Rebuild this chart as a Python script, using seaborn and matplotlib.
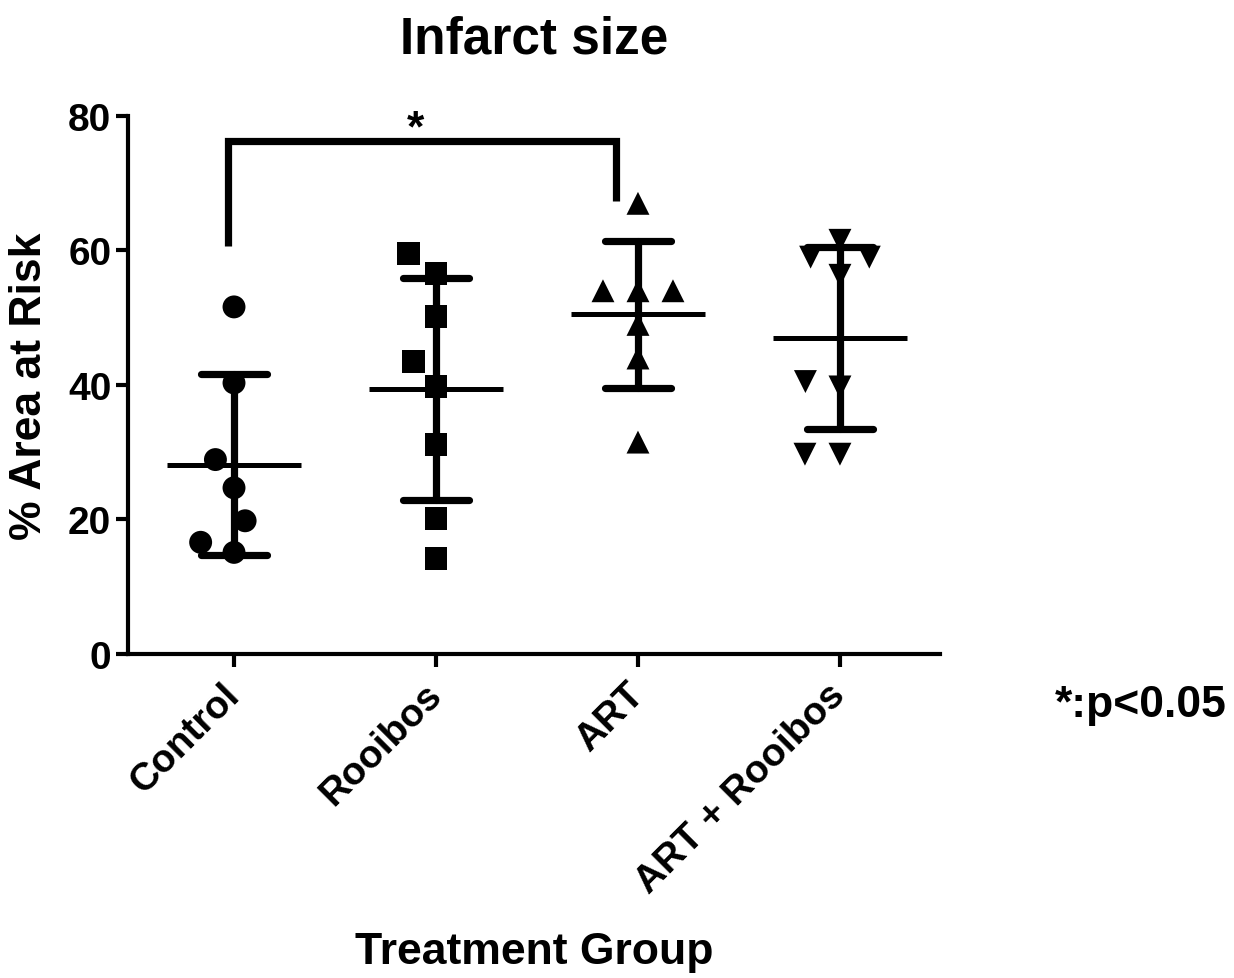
import numpy as np
import pandas as pd
import matplotlib
matplotlib.use("Agg")
import matplotlib.pyplot as plt
import seaborn as sns

# Infarct size (% of area at risk) per animal, by treatment group
groups = ["Control", "Rooibos", "ART", "ART + Rooibos"]
control = [51.6, 40.3, 28.9, 24.7, 19.8, 15.1, 16.6]
rooibos = [59.6, 56.5, 50.2, 43.5, 39.7, 31.1, 20.2, 14.2]
art = [67.0, 54.0, 54.0, 54.0, 49.0, 44.0, 31.5]
art_rooibos = [61.5, 59.0, 59.0, 56.3, 40.5, 39.7, 29.7, 29.7]
group_markers = ["o", "s", "^", "v"]

yticks = [0, 20, 40, 60, 80]

# Significance bracket between Control and ART
bracket_x = [-0.03, 1.89]
bracket_top = 76.3
bracket_feet = [60.7, 67.4]
sig_label = "*"
sig_note = "*:p<0.05"

values = [control, rooibos, art, art_rooibos]
df = pd.DataFrame({
    "group": np.concatenate([[g] * len(v) for g, v in zip(groups, values)]),
    "value": np.concatenate(values),
})

sns.set_theme(style="ticks")
plt.rcParams["font.family"] = ["Liberation Sans", "DejaVu Sans"]
plt.rcParams["font.weight"] = "bold"
plt.rcParams["text.color"] = "black"
plt.rcParams["axes.labelcolor"] = "black"
plt.rcParams["axes.titlecolor"] = "black"

fig = plt.figure(figsize=(12.34, 9.79), dpi=100)
ax = fig.add_axes([0.1037, 0.331, 0.658, 0.5496])

# Individual animals, one marker shape per group
for g, m in zip(groups, group_markers):
    sns.swarmplot(data=df[df["group"] == g], x="group", y="value", order=groups,
                  marker=m, color="black", size=16.5, ax=ax, zorder=3)
for coll in ax.collections:
    coll.set_edgecolor("none")
    coll.set_linewidth(7.5)

# Mean line with SD error bars
sns.pointplot(data=df, x="group", y="value", order=groups, errorbar="sd",
              capsize=0.33, color="black", linestyle="none", marker="_",
              markersize=97, markeredgewidth=3.6,
              err_kws={"linewidth": 5.2}, ax=ax, zorder=2)

# Bracket and asterisk
ax.plot([bracket_x[0], bracket_x[0], bracket_x[1], bracket_x[1]],
        [bracket_feet[0], bracket_top, bracket_top, bracket_feet[1]],
        color="black", lw=5.2, solid_capstyle="butt", solid_joinstyle="miter",
        clip_on=False, zorder=4)
ax.text(0.9, bracket_top, sig_label, ha="center", va="baseline",
        fontsize=32, fontweight="bold", color="black")

ax.set_xlim(-0.525, 3.495)
ax.set_ylim(0, 80)
ax.set_yticks(yticks)
ax.set_yticklabels([str(t) for t in yticks], fontsize=28, fontweight="bold")
ax.set_xticks(range(len(groups)))
ax.set_xticklabels(groups, fontsize=28, fontweight="bold", rotation=45,
                   ha="right", va="center", rotation_mode="anchor")

for side in ["top", "right"]:
    ax.spines[side].set_visible(False)
for side in ["left", "bottom"]:
    ax.spines[side].set_linewidth(3.0)
    ax.spines[side].set_color("black")
ax.tick_params(axis="both", direction="out", length=9, width=3.0,
               color="black", labelcolor="black")
ax.tick_params(axis="y", pad=3)
ax.tick_params(axis="x", pad=16)

ax.set_title("Infarct size", fontsize=37, fontweight="bold", pad=46, color="black")
ax.set_xlabel("Treatment Group", fontsize=32, fontweight="bold", color="black")
ax.xaxis.set_label_coords(0.5, -0.515)
ax.set_ylabel("% Area at Risk", fontsize=32, fontweight="bold", color="black")
ax.yaxis.set_label_coords(-0.096, 0.5)

fig.text(1055 / 1234, 1 - 717 / 979, sig_note, ha="left", va="baseline",
         fontsize=32, fontweight="bold", color="black")

fig.savefig("out.png", dpi=100, facecolor="white")
